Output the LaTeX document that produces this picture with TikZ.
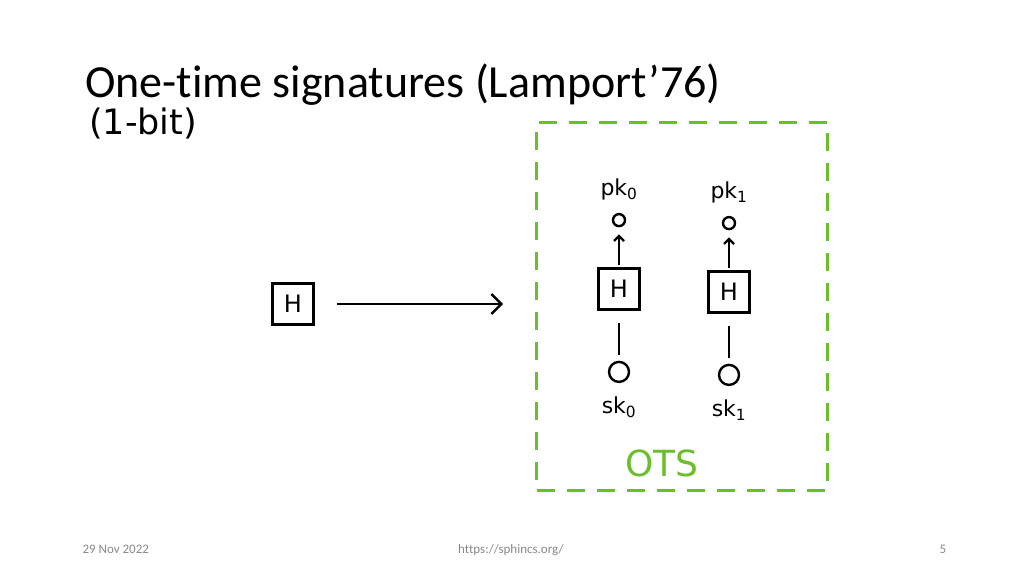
\documentclass[tikz,border=0pt]{standalone}
\usepackage{fontspec}
\setmainfont{Carlito}[Ligatures=NoCommon]
\newfontfamily\handfont{DejaVu Sans}
\usetikzlibrary{arrows.meta,positioning}
\definecolor{otsgreen}{RGB}{108,190,45}
\definecolor{footgrey}{RGB}{137,137,137}

\begin{document}
\begin{tikzpicture}[
                    x=1pt,
                    y=1pt,
                    hbox/.style={
                        rectangle,
                        draw=black,
                        line width=2.4pt,
                        minimum size=41pt,
                        inner sep=0pt,
                        font=\handfont\fontsize{24}{24}\selectfont
                    },
                    keydot/.style={
                        circle,
                        draw=black,
                        line width=2.4pt,
                        inner sep=0pt
                    },
                    keylabel/.style={
                        inner sep=0pt,
                        font=\handfont\fontsize{22}{22}\selectfont
                    },
                    otsbox/.style={
                        rectangle,
                        draw=otsgreen,
                        line width=3pt,
                        dash pattern=on 18pt off 12pt,
                        minimum width=291pt,
                        minimum height=368pt
                    },
                    foot/.style={
                        text=footgrey,
                        font=\fontsize{13}{13}\selectfont
                    },
                    line width=2.4pt,
                    >={Straight Barb[length=5pt,width=10pt]}
                ]
                \useasboundingbox (0,-576) rectangle (1024,0);
                \newcommand{\mkcolumn}[2]{
                    \node (hash#1) [hbox] at (#2) {H};
                    \node (pkdot#1) [keydot, minimum size=12pt, above=40pt of hash#1] {};
                    \node (pk#1) [keylabel, above=12pt of pkdot#1] {pk\textsubscript{#1}};
                    \node (skdot#1) [keydot, minimum size=20pt, below=50pt of hash#1] {};
                    \node (sk#1) [keylabel, below=12pt of skdot#1] {sk\textsubscript{#1}};
                }

                \node (title) [anchor=base west, inner sep=0pt, font=\fontsize{46}{46}\selectfont] at (84,-97) {One-time signatures (Lamport’76)};
                \node (bits) [anchor=base west, inner sep=0pt, font=\handfont\fontsize{35}{35}\selectfont] at (88,-134) {(1-bit)};

                \node (ots) [otsbox] at (682,-306) {};
                \node (otslabel) [text=otsgreen, font=\handfont\fontsize{36}{36}\selectfont] at (662,-463) {OTS};

                \mkcolumn{0}{619,-289}
                \mkcolumn{1}{729,-292}

                \node (hleft) [hbox] at (293,-304) {H};

                \path
                (hash0) edge [->, shorten <=2pt, shorten >=7pt] (pkdot0)
                (hash1) edge [->, shorten <=2pt, shorten >=7pt] (pkdot1)
                (hash0) edge [shorten <=12pt, shorten >=6pt] (skdot0)
                (hash1) edge [shorten <=12pt, shorten >=6pt] (skdot1)
                (hleft) edge [-{Straight Barb[length=10pt,width=20pt]}, shorten <=22pt, shorten >=32pt] (hleft -| ots.west)
                ;

                \node (date) [foot, anchor=base west] at (78,-553) {29 Nov 2022};
                \node (url) [foot, anchor=base] at (511,-553) {https://sphincs.org/};
                \node (page) [foot, anchor=base] at (943,-553) {5};
            \end{tikzpicture}
\end{document}
